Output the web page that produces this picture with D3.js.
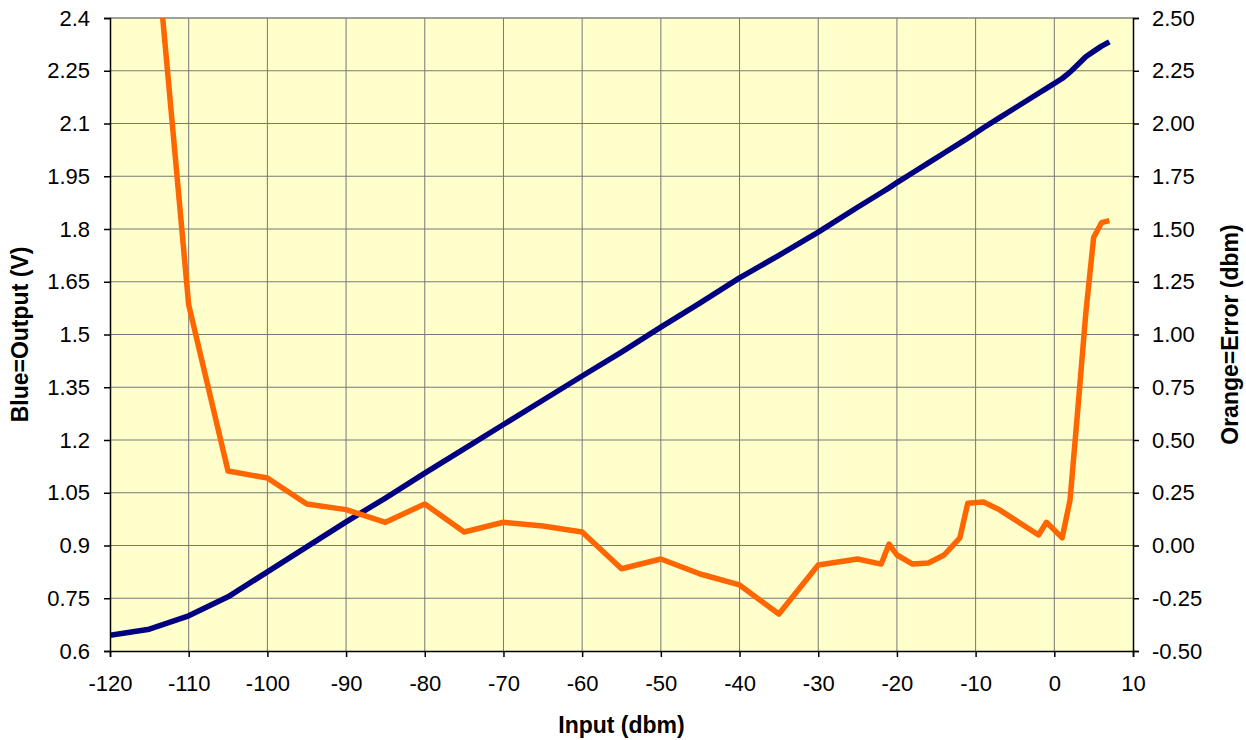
<!DOCTYPE html>
<html>
<head>
<meta charset="utf-8">
<script src="https://cdn.jsdelivr.net/npm/d3@7"></script>
<style>
  body { margin: 0; background: #fff; }
  text { font-family: Arial, "Liberation Sans", sans-serif; }
</style>
</head>
<body>
<svg id="chart" width="1246" height="740"></svg>
<script>
// input (dbm) values shared by both series
var inputDbm = [-120, -115, -110, -105, -100, -95, -90, -85, -80, -75, -70, -65, -60, -55, -50, -45, -40, -35, -30, -25,
                -22, -21, -20, -18, -16, -14, -12, -11, -9, -7, -2, -1, 1, 2, 3, 4, 5, 6, 7];
// blue = output voltage (V)
var outputV = [0.645, 0.662, 0.700, 0.754, 0.825, 0.896, 0.967, 1.035, 1.106, 1.175, 1.244, 1.313, 1.382, 1.450, 1.521, 1.590, 1.661, 1.725, 1.791, 1.862,
               1.903, 1.917, 1.932, 1.960, 1.988, 2.016, 2.044, 2.058, 2.088, 2.116, 2.186, 2.200, 2.228, 2.246, 2.268, 2.290, 2.305, 2.320, 2.332];
// orange = error (dbm); the -115 point lies above the top of the chart
var errorDbm = [null, 3.20, 1.14, 0.353, 0.32, 0.197, 0.170, 0.11, 0.197, 0.064, 0.11, 0.092, 0.064, -0.11, -0.064, -0.135, -0.187, -0.325, -0.092, -0.064,
                -0.088, 0.007, -0.045, -0.088, -0.083, -0.045, 0.036, 0.20, 0.206, 0.17, 0.05, 0.11, 0.036, 0.216, 0.65, 1.10, 1.46, 1.53, 1.54];
var xTicks = d3.range(-120, 11, 10);
var leftTicks = [0.6, 0.75, 0.9, 1.05, 1.2, 1.35, 1.5, 1.65, 1.8, 1.95, 2.1, 2.25, 2.4];
var rightTicks = d3.range(-0.5, 2.51, 0.25);

var width = 1246, height = 740;
var margin = {left: 110, top: 18, right: 113, bottom: 89};
var w = width - margin.left - margin.right,
    h = height - margin.top - margin.bottom;

var svg = d3.select('#chart');
var g = svg.append('g').attr('transform', 'translate(' + margin.left + ',' + margin.top + ')');

var x = d3.scaleLinear().domain([-120, 10]).range([0, w]);
var yL = d3.scaleLinear().domain([0.6, 2.4]).range([h, 0]);
var yR = d3.scaleLinear().domain([-0.5, 2.5]).range([h, 0]);

g.append('rect').attr('width', w).attr('height', h).attr('fill', '#ffffcc');

svg.append('defs').append('clipPath').attr('id', 'clip')
  .append('rect').attr('width', w).attr('height', h);

// grid
g.selectAll('.vgrid').data(xTicks.slice(1, -1)).enter().append('line')
  .attr('x1', d => x(d)).attr('x2', d => x(d)).attr('y1', 0).attr('y2', h)
  .attr('stroke', '#777').attr('stroke-width', 1);
g.selectAll('.hgrid').data(leftTicks.slice(1, -1)).enter().append('line')
  .attr('y1', d => yL(d)).attr('y2', d => yL(d)).attr('x1', 0).attr('x2', w)
  .attr('stroke', '#777').attr('stroke-width', 1);
g.append('line').attr('x1', 0).attr('x2', w).attr('y1', 0).attr('y2', 0)
  .attr('stroke', '#808080').attr('stroke-width', 1.5);

// lines
var lines = g.append('g').attr('clip-path', 'url(#clip)');
lines.append('path').datum(outputV)
  .attr('d', d3.line().x((d, i) => x(inputDbm[i])).y(d => yL(d)))
  .attr('fill', 'none').attr('stroke', '#000080').attr('stroke-width', 5.5).attr('stroke-linejoin', 'round');
lines.append('path').datum(errorDbm)
  .attr('d', d3.line().defined(d => d !== null).x((d, i) => x(inputDbm[i])).y(d => yR(d)))
  .attr('fill', 'none').attr('stroke', '#ff6600').attr('stroke-width', 5.5).attr('stroke-linejoin', 'round');

// axes (hyphen minus like the original)
var hy = s => s.replace('\u2212', '-');
var xAxis = g.append('g').attr('transform', 'translate(0,' + h + ')')
  .call(d3.axisBottom(x).tickValues(xTicks).tickSize(6).tickPadding(18).tickFormat(d => hy(String(d))));
var leftAxis = g.append('g')
  .call(d3.axisLeft(yL).tickValues(leftTicks).tickSize(6).tickPadding(14).tickFormat(d => String(+d.toFixed(2))));
var rightAxis = g.append('g').attr('transform', 'translate(' + w + ',0)')
  .call(d3.axisRight(yR).tickValues(rightTicks).tickSize(6).tickPadding(13).tickFormat(d => hy(d3.format('.2f')(d))));

[xAxis, leftAxis, rightAxis].forEach(function(a) {
  a.select('.domain').attr('stroke', '#000').attr('stroke-width', 1.5);
  a.selectAll('.tick line').attr('stroke', '#000').attr('stroke-width', 1.5);
  a.selectAll('.tick text').attr('font-size', 22).attr('fill', '#000')
    .attr('font-family', 'Arial, "Liberation Sans", sans-serif');
});

// titles
svg.append('text').attr('x', margin.left + w / 2).attr('y', 733)
  .attr('text-anchor', 'middle').attr('font-size', 23).attr('font-weight', 'bold').text('Input (dbm)');
svg.append('text').attr('transform', 'translate(28,' + (margin.top + h / 2) + ') rotate(-90)')
  .attr('text-anchor', 'middle').attr('font-size', 23).attr('font-weight', 'bold').text('Blue=Output (V)');
svg.append('text').attr('transform', 'translate(1238,' + (margin.top + h / 2) + ') rotate(-90)')
  .attr('text-anchor', 'middle').attr('font-size', 23).attr('font-weight', 'bold').text('Orange=Error (dbm)');
</script>
</body>
</html>
